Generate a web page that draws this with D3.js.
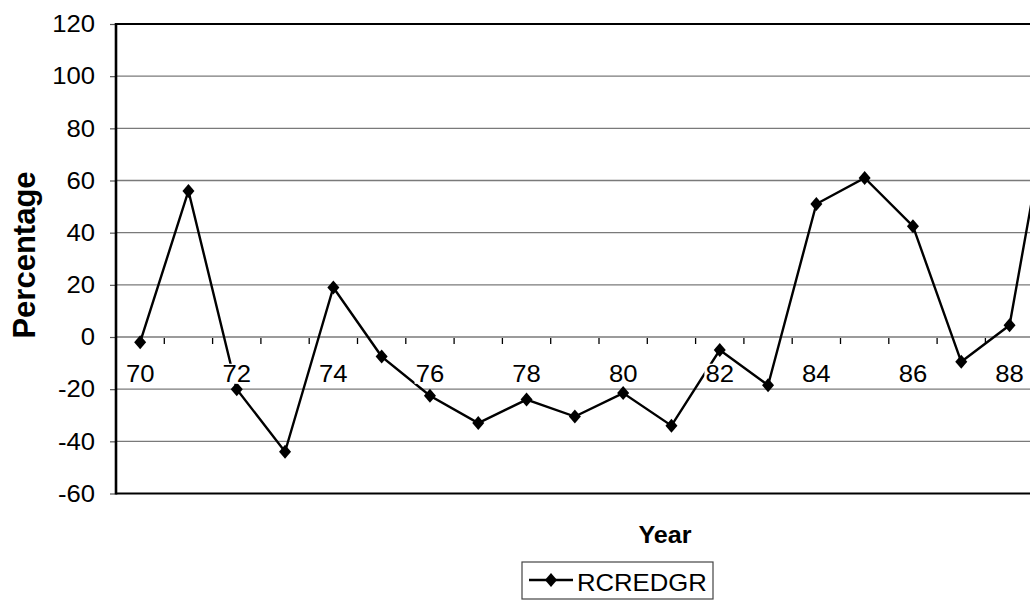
<!DOCTYPE html>
<html>
<head>
<meta charset="utf-8">
<script src="https://cdn.jsdelivr.net/npm/d3@7"></script>
<style>
  html, body { margin: 0; padding: 0; background: #fff; overflow: hidden; }
  text { font-family: "Liberation Sans", Arial, sans-serif; fill: #000; }
</style>
</head>
<body>
<svg id="chart" width="1030" height="605"></svg>
<script>
// ---- data ----
const years = ["70","71","72","73","74","75","76","77","78","79","80","81","82","83","84","85","86","87","88","89"];
const rcredgr = [-2, 56, -20, -44, 19, -7.5, -22.5, -33, -24, -30.5, -21.5, -34, -5, -18.5, 51, 61, 42.5, -9.5, 4.5, 108];
const xTickLabels = ["70","72","74","76","78","80","82","84","86","88"];
const yTicks = [-60, -40, -20, 0, 20, 40, 60, 80, 100, 120];
const seriesName = "RCREDGR";
const xTitle = "Year";
const yTitle = "Percentage";

// ---- layout ----
const svg = d3.select("#chart");
const plotLeft = 116, plotTop = 24, plotBottom = 493.5;
const step = 48.3;
const plotRight = plotLeft + step * years.length;
const SX = 1.07; // slight horizontal widening of the reference's lettering

const x = d3.scaleBand().domain(years).range([plotLeft, plotRight]).paddingInner(0).paddingOuter(0);
const xc = d => x(d) + x.bandwidth() / 2;
const y = d3.scaleLinear().domain([-60, 120]).range([plotBottom, plotTop]);

// gridlines
svg.append("g").selectAll("line").data(yTicks).join("line")
  .attr("x1", plotLeft).attr("x2", plotRight)
  .attr("y1", d => y(d)).attr("y2", d => y(d))
  .attr("stroke", d => (d === 120 || d === -60) ? "#000" : "#7a7a7a")
  .attr("stroke-width", d => (d === 120 || d === -60) ? 2.2 : 1.4);

// y axis
const yAxis = d3.axisLeft(y).tickValues(yTicks).tickSize(6).tickPadding(0).tickFormat(d => String(d));
const gy = svg.append("g").attr("transform", `translate(${plotLeft},0)`).call(yAxis);
gy.select(".domain").remove();
gy.selectAll(".tick line").attr("stroke", "#555").attr("stroke-width", 1.2);
gy.selectAll(".tick text")
  .attr("x", null)
  .attr("transform", `translate(-21,0) scale(${SX},1)`)
  .attr("font-size", 24).attr("font-family", "Liberation Sans, Arial, sans-serif").attr("fill", "#000");
svg.append("line").attr("x1", plotLeft).attr("x2", plotLeft).attr("y1", plotTop - 1).attr("y2", plotBottom + 1)
  .attr("stroke", "#000").attr("stroke-width", 2.6);

// x axis ticks on zero line (band boundaries)
const boundaries = years.slice(1).map(d => x(d));
svg.append("g").selectAll("line").data(boundaries).join("line")
  .attr("x1", d => d).attr("x2", d => d)
  .attr("y1", y(0) + 1).attr("y2", y(0) + 7)
  .attr("stroke", "#000").attr("stroke-width", 1.3);

// series line
const line = d3.line().x((d, i) => xc(years[i])).y(d => y(d));
svg.append("path").datum(rcredgr).attr("d", line)
  .attr("fill", "none").attr("stroke", "#000").attr("stroke-width", 2.4).attr("stroke-linejoin", "miter");

// markers
const diamond = "M0,-7L6,0L0,7L-6,0Z";
svg.append("g").selectAll("path").data(rcredgr).join("path")
  .attr("d", diamond)
  .attr("transform", (d, i) => `translate(${xc(years[i])},${y(d)})`)
  .attr("fill", "#000");

// x tick labels with white background (drawn on top of the line)
const gx = svg.append("g");
xTickLabels.forEach(lbl => {
  const g = gx.append("g").attr("transform", `translate(${xc(lbl)},382) scale(${SX},1)`);
  const r = g.append("rect").attr("fill", "#fff");
  const t = g.append("text").attr("text-anchor", "middle").attr("font-size", 24).text(lbl);
  const bb = t.node().getBBox();
  r.attr("x", bb.x - 1).attr("y", bb.y + 3).attr("width", bb.width + 2).attr("height", bb.height - 6);
});

// axis titles
svg.append("text").attr("transform", `translate(665,543) scale(${SX},1)`).attr("text-anchor", "middle")
  .attr("font-size", 23.5).attr("font-weight", "bold").text(xTitle);
svg.append("text").attr("transform", "translate(35,255) rotate(-90)").attr("text-anchor", "middle")
  .attr("font-size", 31).attr("font-weight", "bold").text(yTitle);

// legend
const lg = svg.append("g");
lg.append("rect").attr("x", 522).attr("y", 562).attr("width", 191).attr("height", 37)
  .attr("fill", "#fff").attr("stroke", "#444").attr("stroke-width", 1.2);
lg.append("line").attr("x1", 529).attr("x2", 573).attr("y1", 580).attr("y2", 580)
  .attr("stroke", "#000").attr("stroke-width", 2.4);
lg.append("path").attr("d", diamond).attr("transform", "translate(551,580)").attr("fill", "#000");
lg.append("text").attr("transform", `translate(577,591) scale(${SX},1)`).attr("font-size", 24).text(seriesName);
</script>
</body>
</html>
